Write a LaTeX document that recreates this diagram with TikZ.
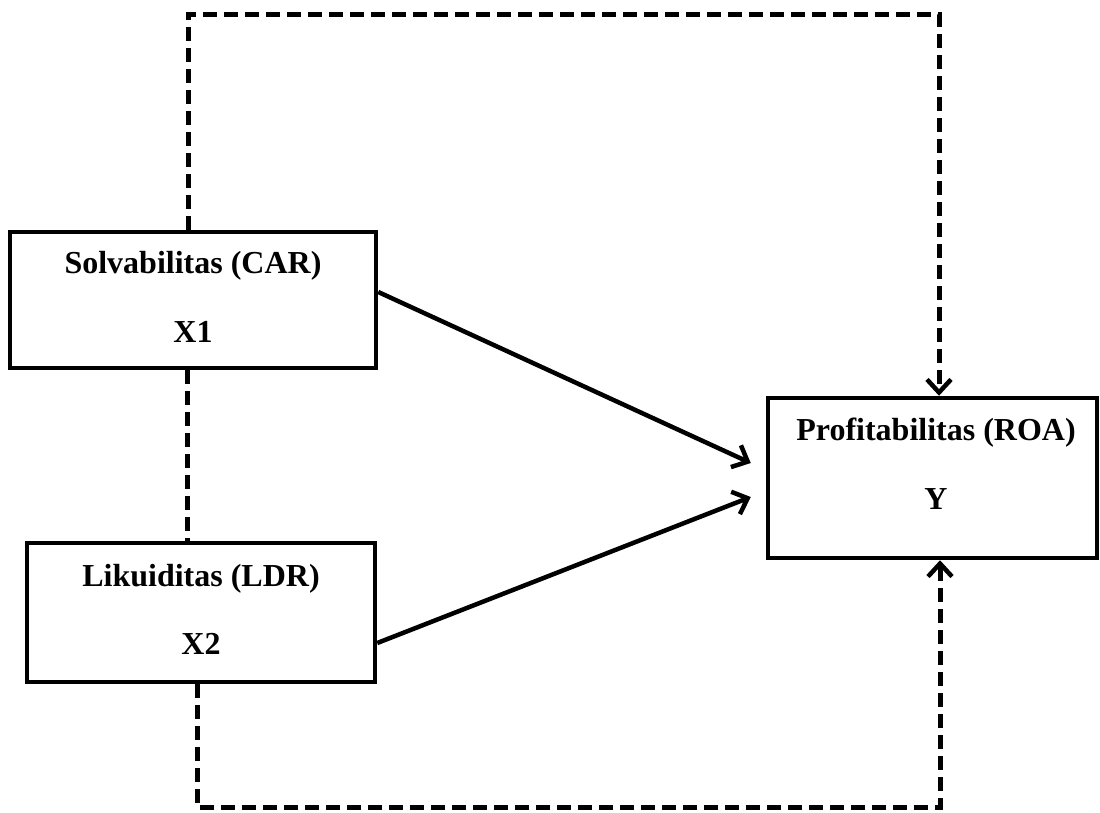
\documentclass[tikz,border=0pt]{standalone}
\usepackage{fontspec}
\setmainfont{Liberation Serif}
\usetikzlibrary{arrows.meta}
\begin{document}
\begin{tikzpicture}[x=1pt,y=-1pt,
  box/.style={draw,line width=4.5pt,rectangle,inner sep=0pt},
  lbl/.style={anchor=base,font=\fontsize{32}{38}\selectfont\bfseries,inner sep=0pt},
  solidarrow/.style={line width=4.5pt,-{Straight Barb[length=13pt,width=24pt,line width=4.5pt]}},
  dashline/.style={line width=5pt,dash pattern=on 14pt off 7pt},
  dasharrow/.style={dashline,-{Straight Barb[length=13pt,width=24pt,line width=4.5pt]}}]
\useasboundingbox (0,0) rectangle (1100,812);
\node[box,minimum width=366pt,minimum height=136pt] (b1) at (193,300) {};
\node[box,minimum width=348pt,minimum height=139pt] (b2) at (201,612.5) {};
\node[box,minimum width=329pt,minimum height=160pt] (by) at (932.5,478) {};
\node[lbl] (t1) at (193,273) {Solvabilitas (CAR)};
\node[lbl] (x1) at (193,342) {X1};
\node[lbl] (t2) at (201,586) {Likuiditas (LDR)};
\node[lbl] (x2) at (201,654) {X2};
\node[lbl] (ty) at (936,440) {Profitabilitas (ROA)};
\node[lbl] (yy) at (936,509) {Y};
\coordinate (ca) at (188,14);
\coordinate (cb) at (939,14);
\coordinate (cm) at (187,0);
\coordinate (cc) at (197,807);
\coordinate (cd) at (940,807);
\draw[dasharrow] (b1.north -| ca) -- (ca) -- (cb) -- (by.north -| cb);
\draw[dashline] (b1.south -| cm) -- (b2.north -| cm);
\draw[dasharrow] (b2.south -| cc) -- (cc) -- (cd) -- (by.south -| cd);
\draw[solidarrow] ([yshift=8pt]b1.east) -- ([xshift=-15pt,yshift=15pt]by.west);
\draw[solidarrow] ([yshift=-30.5pt]b2.east) -- ([xshift=-15pt,yshift=-19pt]by.west);
\end{tikzpicture}
\end{document}
